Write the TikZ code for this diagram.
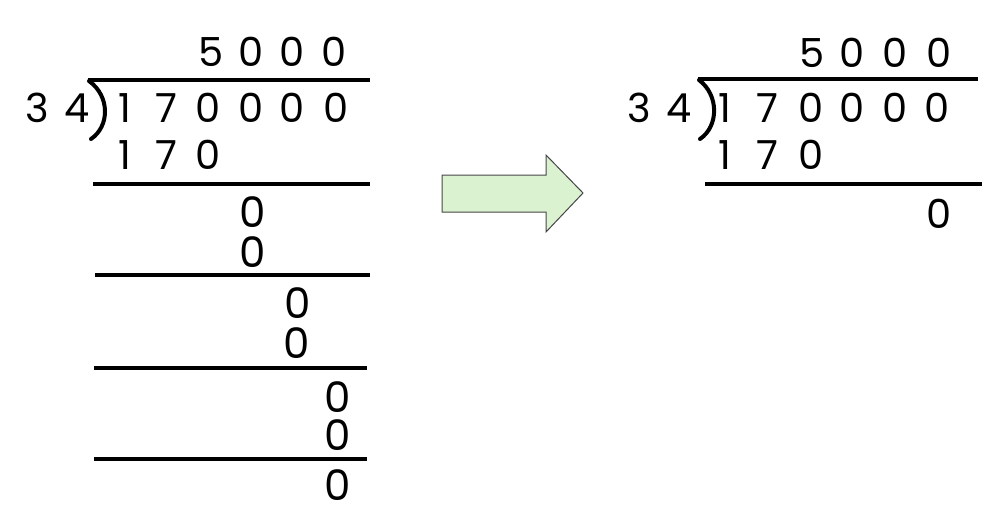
\documentclass[tikz,border=0pt]{standalone}
\usepackage{fontspec}
\setmainfont{Poppins}
\begin{document}
\begin{tikzpicture}[x=1pt,y=-1pt,
  dg/.style={anchor=base,inner sep=0pt,font=\fontsize{40}{40}\selectfont},
  bg/.style={anchor=base,inner sep=0pt,font=\fontsize{42}{42}\selectfont},
  rule/.style={line width=4.5pt},
  paren/.style={line width=4pt,line cap=round},
  fatarrow/.style={fill={rgb,255:red,218;green,242;blue,208},draw={rgb,255:red,70;green,70;blue,70},line width=1pt}]
\useasboundingbox (0,0) rectangle (988,524);
% ---------- left division ----------
\node[dg] (lq1) at (211,67) {5};
\node[dg] (lq2) at (251,67) {0};
\node[dg] (lq3) at (292,67) {0};
\node[dg] (lq4) at (334,67) {0};
\draw[rule] (88,80) -- (370,80);
\draw[paren] (89,81) .. controls (110,96) and (110,126) .. (91,139);
\node[dg] (ld1) at (37,123) {3};
\node[dg] (ld2) at (77,123) {4};
\node[dg] (lv1) at (125,123) {1};
\node[dg] (lv2) at (166,123) {7};
\node[dg] (lv3) at (208,123) {0};
\node[dg] (lv4) at (251,123) {0};
\node[dg] (lv5) at (292,123) {0};
\node[dg] (lv6) at (336,123) {0};
\node[dg] (lp1) at (125,170) {1};
\node[dg] (lp2) at (166,170) {7};
\node[dg] (lp3) at (208,170) {0};
\draw[rule] (93,184) -- (370,184);
\node[bg] (lr1) at (253,227) {0};
\node[bg] (lr2) at (253,267) {0};
\draw[rule] (95,275) -- (370,275);
\node[bg] (lr3) at (298,318) {0};
\node[bg] (lr4) at (297,358) {0};
\draw[rule] (94,368) -- (367,368);
\node[bg] (lr5) at (338,412) {0};
\node[bg] (lr6) at (338,450) {0};
\draw[rule] (94,459) -- (367,459);
\node[bg] (lr7) at (338,500) {0};
% ---------- arrow ----------
\draw[fatarrow] (442,175) -- (546,175) -- (546,155) -- (583,193) -- (546,232) -- (546,212) -- (442,212) -- cycle;
% ---------- right division ----------
\node[dg] (rq1) at (812,68) {5};
\node[dg] (rq2) at (852,68) {0};
\node[dg] (rq3) at (895,68) {0};
\node[dg] (rq4) at (939,68) {0};
\draw[rule] (698,79) -- (978,79);
\draw[paren] (699,80) .. controls (719,95) and (719,126) .. (700,139);
\node[dg] (rd1) at (639,123) {3};
\node[dg] (rd2) at (679,123) {4};
\node[dg] (rv1) at (725,123) {1};
\node[dg] (rv2) at (767,123) {7};
\node[dg] (rv3) at (811,123) {0};
\node[dg] (rv4) at (852,123) {0};
\node[dg] (rv5) at (895,123) {0};
\node[dg] (rv6) at (937,123) {0};
\node[dg] (rp1) at (725,170) {1};
\node[dg] (rp2) at (767,170) {7};
\node[dg] (rp3) at (811,170) {0};
\draw[rule] (705,184) -- (982,184);
\node[dg] (rr1) at (939,228) {0};
\end{tikzpicture}
\end{document}
